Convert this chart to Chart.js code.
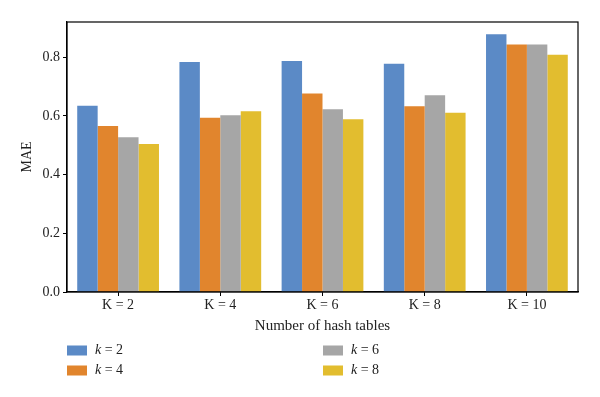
<!DOCTYPE html>
<html>
<head>
<meta charset="utf-8">
<script src="https://cdn.jsdelivr.net/npm/chart.js@4"></script>
<style>
html,body{margin:0;padding:0;background:#fff;}
#wrap{position:relative;width:600px;height:397px;}
</style>
</head>
<body>
<div id="wrap"><canvas id="c" width="600" height="397"></canvas></div>
<script>
const categories = ["K = 2", "K = 4", "K = 6", "K = 8", "K = 10"];
const seriesNames = ["k = 2", "k = 4", "k = 6", "k = 8"];
const seriesK2 = [0.635, 0.784, 0.787, 0.778, 0.878];
const seriesK4 = [0.566, 0.594, 0.676, 0.633, 0.843];
const seriesK6 = [0.527, 0.602, 0.623, 0.670, 0.843];
const seriesK8 = [0.504, 0.616, 0.589, 0.611, 0.808];
const colors = ["#5b8ac6", "#e1852d", "#a6a6a6", "#e2bd2f"];
const yTicks = [0, 0.2, 0.4, 0.6, 0.8];

const FONT = "'Liberation Serif', 'Times New Roman', serif";

const framePlugin = {
  id: 'frame',
  afterDatasetsDraw(chart) {
    const {ctx, chartArea: a} = chart;
    ctx.save();
    ctx.strokeStyle = '#000';
    ctx.lineWidth = 1.2;
    ctx.strokeRect(a.left, a.top, a.right - a.left, a.bottom - a.top);
    ctx.restore();
  }
};

const legendPlugin = {
  id: 'gridLegend',
  afterDraw(chart) {
    const {ctx} = chart;
    const cols = [67, 323];
    const rows = [350.5, 370.5];
    ctx.save();
    chart.data.datasets.forEach((ds, i) => {
      const col = Math.floor(i / 2), row = i % 2;
      const x = cols[col], y = rows[row];
      ctx.fillStyle = ds.backgroundColor;
      ctx.fillRect(x, y - 5, 20, 10);
      ctx.fillStyle = '#222';
      ctx.textBaseline = 'middle';
      ctx.font = "italic 14px " + FONT;
      const parts = ds.label.split(' ');
      let tx = x + 28;
      ctx.fillText(parts[0], tx, y);
      tx += ctx.measureText(parts[0]).width;
      ctx.font = "14px " + FONT;
      ctx.fillText(' ' + parts.slice(1).join(' '), tx, y);
    });
    ctx.restore();
  }
};

new Chart(document.getElementById('c'), {
  type: 'bar',
  data: {
    labels: categories,
    datasets: [
      {label: seriesNames[0], data: seriesK2, backgroundColor: colors[0]},
      {label: seriesNames[1], data: seriesK4, backgroundColor: colors[1]},
      {label: seriesNames[2], data: seriesK6, backgroundColor: colors[2]},
      {label: seriesNames[3], data: seriesK8, backgroundColor: colors[3]}
    ]
  },
  options: {
    responsive: false,
    animation: false,
    datasets: {bar: {categoryPercentage: 0.8, barPercentage: 1.0, borderWidth: 0}},
    layout: {padding: {left: 0, right: 22, top: 22, bottom: 60}},
    plugins: {legend: {display: false}, tooltip: {enabled: false}},
    scales: {
      x: {
        grid: {display: true, drawOnChartArea: false, drawTicks: true, tickLength: 4, offset: false, color: '#000'},
        border: {display: true, color: '#000', width: 1.2},
        ticks: {color: '#222', padding: 1, font: {family: FONT, size: 14}, maxRotation: 0},
        title: {display: true, text: 'Number of hash tables', color: '#222', font: {family: FONT, size: 15}, padding: {top: 0, bottom: 1.5}},
        afterFit: s => { s.height = 45; }
      },
      y: {
        min: 0,
        max: 0.92,
        grid: {display: true, drawOnChartArea: false, drawTicks: true, tickLength: 4, color: '#000'},
        border: {display: true, color: '#000', width: 1.2},
        afterBuildTicks: s => { s.ticks = yTicks.map(v => ({value: v})); },
        ticks: {color: '#222', padding: 3, font: {family: FONT, size: 14}, callback: v => Number(v).toFixed(1)},
        title: {display: true, text: 'MAE', color: '#222', font: {family: FONT, size: 14}, padding: {top: 19, bottom: 0}},
        afterFit: s => { s.width = 67; }
      }
    }
  },
  plugins: [framePlugin, legendPlugin]
});
</script>
</body>
</html>
